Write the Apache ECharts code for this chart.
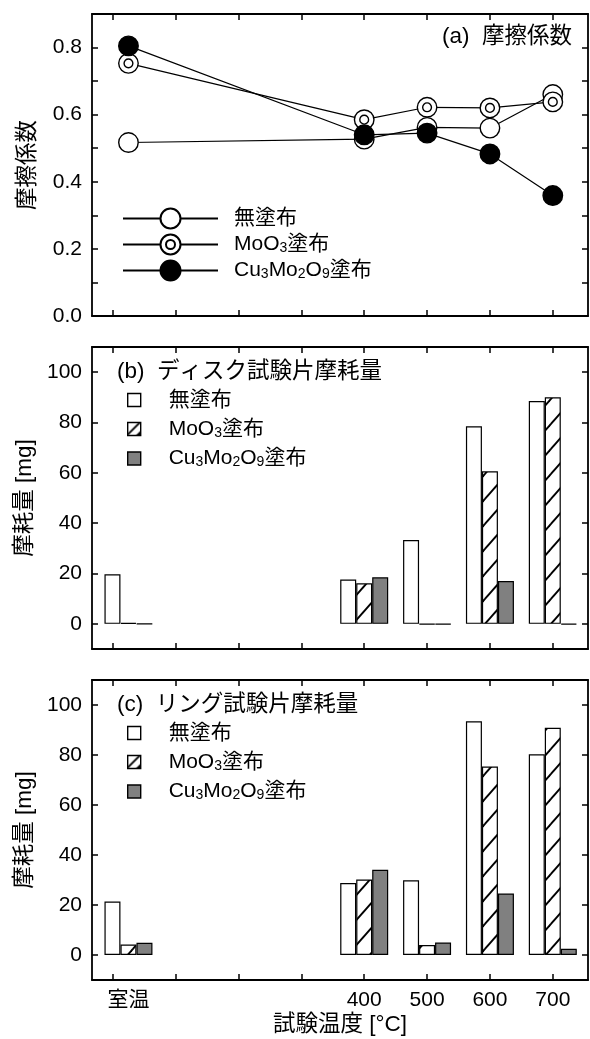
<!DOCTYPE html>
<html><head><meta charset="utf-8">
<script src="https://cdn.jsdelivr.net/npm/echarts@6/dist/echarts.min.js"></script>
<style>html,body{margin:0;padding:0;background:#fff}#c{width:590px;height:1039px}</style>
</head><body><div id="c"></div>
<script>
// ---- data ----
const categories = ['室温', '400', '500', '600', '700'];
const tempX = [25, 400, 500, 600, 700];
const xTickValues = [0, 100, 200, 300, 400, 500, 600, 700];
const seriesLabels = ['無塗布', 'MoO3塗布', 'Cu3Mo2O9塗布'];

const muUncoated = [0.517, 0.527, 0.562, 0.560, 0.660];
const muMoO3     = [0.753, 0.585, 0.622, 0.620, 0.638];
const muCu       = [0.805, 0.540, 0.545, 0.483, 0.359];

const discUncoated = [19.7, 17.6, 33.3, 78.5, 88.5];
const discMoO3     = [0.4, 16.1, -0.2, 60.6, 90.0];
const discCu       = [-0.1, 18.5, -0.2, 17.0, -0.3];

const ringUncoated = [21.4, 28.8, 29.9, 93.5, 80.3];
const ringMoO3     = [4.2, 30.2, 4.0, 75.4, 90.9];
const ringCu       = [4.9, 34.1, 5.0, 24.6, 2.5];

const yTicksA  = [0, 0.1, 0.2, 0.3, 0.4, 0.5, 0.6, 0.7, 0.8];
const yLabelsA = [0, 0.2, 0.4, 0.6, 0.8];
const yTicksW  = [0, 20, 40, 60, 80, 100];

const panelTitles = ['(a)  摩擦係数', '(b)  ディスク試験片摩耗量', '(c)  リング試験片摩耗量'];

// ---- styles ----
const FONT = '"Liberation Sans", "Noto Sans CJK JP", sans-serif';
const FS = 21;
const FS_TITLE = 22.5;

function hatch() {
  const W = 22, H = 25;
  const c = document.createElement('canvas');
  c.width = W; c.height = H;
  const g = c.getContext('2d');
  g.fillStyle = '#fff'; g.fillRect(0, 0, W, H);
  g.strokeStyle = '#000'; g.lineWidth = 1.9;
  for (let k = -1; k <= 1; k++) {
    g.beginPath();
    g.moveTo(-2, H + k * H + 2 * H / W);
    g.lineTo(W + 2, k * H - 2 * H / W);
    g.stroke();
  }
  return c;
}
function hatchIcon() {
  const S = 13;
  const c = document.createElement('canvas');
  c.width = S; c.height = S;
  const g = c.getContext('2d');
  g.fillStyle = '#fff'; g.fillRect(0, 0, S, S);
  g.strokeStyle = '#000'; g.lineWidth = 1.8;
  g.beginPath(); g.moveTo(0, S - 1); g.lineTo(S - 1, 0); g.stroke();
  g.fillStyle = '#000';
  g.beginPath(); g.moveTo(S, S - 5); g.lineTo(S, S); g.lineTo(S - 5, S); g.closePath(); g.fill();
  return c;
}
const hatchPattern = { image: hatch(), repeat: 'repeat' };
const hatchIconPattern = { image: hatchIcon(), repeat: 'repeat' };

function richify(s) { return s.replace(/(\d)/g, '{s|$1}'); }
function pairs(arr) { return tempX.map((x, i) => [x, arr[i]]); }

const axisLineStyle = { color: '#000', width: 1.8 };
const tickStyle = { color: '#000', width: 1.5 };

function xAx(grid, pos, showLabel, name) {
  return {
    type: 'value', gridIndex: grid, position: pos, min: -33, max: 756,
    axisLine: { show: true, onZero: false, lineStyle: axisLineStyle },
    axisTick: { show: true, inside: true, length: 6, lineStyle: tickStyle, customValues: xTickValues },
    axisLabel: { show: showLabel, customValues: tempX, margin: 10, color: '#000', fontSize: FS, fontFamily: FONT,
      formatter: v => { const i = tempX.indexOf(v); return i >= 0 ? categories[i] : ''; } },
    splitLine: { show: false },
    name: name || '', nameLocation: 'middle', nameGap: 34,
    nameTextStyle: { color: '#000', fontSize: FS_TITLE, fontFamily: FONT }
  };
}
function yAx(grid, pos, min, max, ticks, labels, fmt, showLabel, name) {
  return {
    type: 'value', gridIndex: grid, position: pos, min: min, max: max,
    axisLine: { show: true, onZero: false, lineStyle: axisLineStyle },
    axisTick: { show: true, inside: true, length: 6, lineStyle: tickStyle, customValues: ticks },
    axisLabel: { show: showLabel, customValues: labels, margin: 10, color: '#000', fontSize: FS, fontFamily: FONT, formatter: fmt },
    splitLine: { show: false },
    name: name || '', nameLocation: 'middle', nameGap: 53, nameRotate: 90,
    nameTextStyle: { color: '#000', fontSize: FS_TITLE, fontFamily: FONT }
  };
}

const fmtA = v => v.toFixed(1);
const fmtW = v => String(Math.round(v));

const doubleCircle = 'path://M0,10A10,10,0,1,1,20,10A10,10,0,1,1,0,10ZM5.5,10A4.5,4.5,0,1,1,14.5,10A4.5,4.5,0,1,1,5.5,10Z';
const lineSymbols = ['circle', doubleCircle, 'circle'];
const lineFills = ['#fff', '#fff', '#000'];
const muData = [muUncoated, muMoO3, muCu];
const barFills = ['#fff', hatchPattern, '#808080'];
const barIconFills = ['#fff', hatchIconPattern, '#808080'];
const discData = [discUncoated, discMoO3, discCu];
const ringData = [ringUncoated, ringMoO3, ringCu];

const series = [];
seriesLabels.forEach((lab, i) => {
  series.push({
    type: 'line', name: 'a_' + lab, xAxisIndex: 0, yAxisIndex: 0,
    data: pairs(muData[i]),
    symbol: lineSymbols[i], symbolSize: 19.5,
    itemStyle: { color: lineFills[i], borderColor: '#000', borderWidth: 1.4 },
    lineStyle: { color: '#000', width: 1.2 },
    z: 3 + i
  });
});
seriesLabels.forEach((lab, i) => {
  series.push({
    type: 'bar', name: 'b_' + lab, xAxisIndex: 2, yAxisIndex: 2,
    data: pairs(discData[i]), barWidth: 16, barGap: '0%',
    itemStyle: { color: barFills[i], borderColor: '#000', borderWidth: 1.2 }
  });
});
seriesLabels.forEach((lab, i) => {
  series.push({
    type: 'bar', name: 'c_' + lab, xAxisIndex: 4, yAxisIndex: 4,
    data: pairs(ringData[i]), barWidth: 16, barGap: '0%',
    itemStyle: { color: barFills[i], borderColor: '#000', borderWidth: 1.2 }
  });
});

const legendText = {
  color: '#000', fontSize: FS, fontFamily: FONT,
  rich: { s: { fontSize: 14, fontFamily: FONT, color: '#000', padding: [8, 0, 0, 0] },
          g: { width: 11 }, h: { width: 23 } }
};

function barLegendData(prefix) {
  return seriesLabels.map((l, i) => ({ name: prefix + l, itemStyle: { color: barIconFills[i], borderColor: '#000', borderWidth: 1.4 } }));
}

const option = {
  animation: false,
  backgroundColor: '#fff',
  textStyle: { fontFamily: FONT },
  grid: [
    { left: 92, top: 14, width: 496, height: 302, containLabel: false, outerBoundsMode: 'none' },
    { left: 92, top: 347, width: 496, height: 302, containLabel: false, outerBoundsMode: 'none' },
    { left: 92, top: 680, width: 496, height: 300, containLabel: false, outerBoundsMode: 'none' }
  ],
  xAxis: [
    xAx(0, 'bottom', false), xAx(0, 'top', false),
    xAx(1, 'bottom', false), xAx(1, 'top', false),
    xAx(2, 'bottom', true, '試験温度 [°C]'), xAx(2, 'top', false)
  ],
  yAxis: [
    yAx(0, 'left', 0, 0.9, yTicksA, yLabelsA, fmtA, true, '摩擦係数'),
    yAx(0, 'right', 0, 0.9, yTicksA, yLabelsA, fmtA, false),
    yAx(1, 'left', -10, 110, yTicksW, yTicksW, fmtW, true, '摩耗量 [mg]'),
    yAx(1, 'right', -10, 110, yTicksW, yTicksW, fmtW, false),
    yAx(2, 'left', -10, 110, yTicksW, yTicksW, fmtW, true, '摩耗量 [mg]'),
    yAx(2, 'right', -10, 110, yTicksW, yTicksW, fmtW, false)
  ],
  legend: [
    { orient: 'vertical', left: 122, top: 207.5, padding: 0, itemWidth: 95, itemHeight: 25, itemGap: 4,
      selectedMode: false, data: seriesLabels.map(l => 'a_' + l),
      formatter: n => '{g| }' + richify(n.slice(2)), textStyle: legendText },
    { orient: 'vertical', left: 127, top: 389.5, padding: 0, itemWidth: 13, itemHeight: 13, itemGap: 8, icon: 'rect',
      selectedMode: false, data: barLegendData('b_'),
      formatter: n => '{h| }' + richify(n.slice(2)), textStyle: legendText },
    { orient: 'vertical', left: 127, top: 722.5, padding: 0, itemWidth: 13, itemHeight: 13, itemGap: 8, icon: 'rect',
      selectedMode: false, data: barLegendData('c_'),
      formatter: n => '{h| }' + richify(n.slice(2)), textStyle: legendText }
  ],
  graphic: [
    { type: 'text', x: 442, y: 37, style: { text: panelTitles[0], fontSize: FS_TITLE, fontFamily: FONT, fill: '#000', verticalAlign: 'middle', align: 'left' } },
    { type: 'text', x: 117, y: 372, style: { text: panelTitles[1], fontSize: FS_TITLE, fontFamily: FONT, fill: '#000', verticalAlign: 'middle', align: 'left' } },
    { type: 'text', x: 117, y: 705, style: { text: panelTitles[2], fontSize: FS_TITLE, fontFamily: FONT, fill: '#000', verticalAlign: 'middle', align: 'left' } }
  ],
  series: series
};

const chart = echarts.init(document.getElementById('c'));
chart.setOption(option);
</script>
</body></html>
